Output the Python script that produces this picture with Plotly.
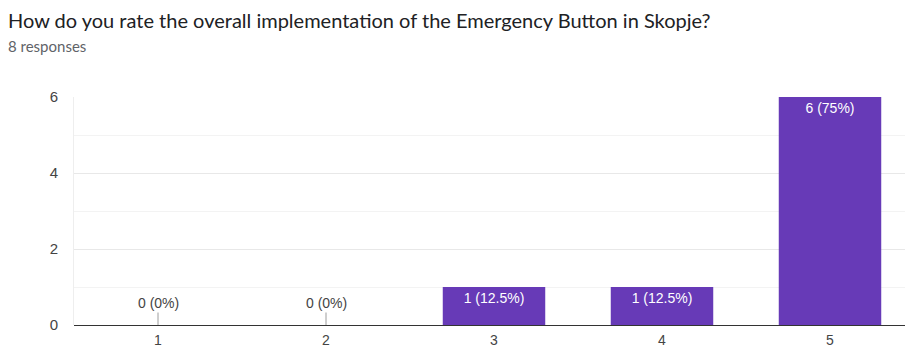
import plotly.graph_objects as go

# Survey responses per rating
ratings = ["1", "2", "3", "4", "5"]
counts = [0, 0, 1, 1, 6]
percents = ["0%", "0%", "12.5%", "12.5%", "75%"]
y_ticks = [0, 2, 4, 6]

title_text = "How do you rate the overall implementation of the Emergency Button in Skopje?"
subtitle_text = "8 responses"

labels = [f"{c} ({p})" for c, p in zip(counts, percents)]
xpos = [int(r) for r in ratings]

LABEL_FONT = "Liberation Sans, Arial"

fig = go.Figure()
fig.add_trace(go.Bar(
    x=xpos,
    y=counts,
    width=0.61,
    marker=dict(color="#673ab7", line=dict(width=0)),
    text=[l if c > 0 else "" for l, c in zip(labels, counts)],
    textposition="inside",
    insidetextanchor="end",
    textangle=0,
    constraintext="none",
    textfont=dict(family=LABEL_FONT, size=14, color="#ffffff"),
    hoverinfo="skip",
))

# Zero-valued ratings: label above the baseline with a short leader line
for x, c, l in zip(xpos, counts, labels):
    if c == 0:
        fig.add_annotation(
            x=x, y=c, xref="x", yref="y",
            text=l, showarrow=True, arrowhead=0, arrowwidth=1,
            arrowcolor="#9e9e9e", ax=0, ay=-22,
            font=dict(family=LABEL_FONT, size=14, color="#444444"),
        )

# Heading and response count above the plot area
fig.add_annotation(
    xref="paper", yref="paper", x=(-74 + 6) / 831, y=1.0 + (97 - 20) / 228,
    text=title_text, showarrow=False, xanchor="left", yanchor="middle",
    font=dict(family="Lato, Open Sans", size=20, color="#202124"),
)
fig.add_annotation(
    xref="paper", yref="paper", x=(-74 + 6) / 831, y=1.0 + (97 - 46) / 228,
    text=subtitle_text, showarrow=False, xanchor="left", yanchor="middle",
    font=dict(family="Lato, Open Sans", size=15, color="#5f6368"),
)

fig.update_layout(
    width=905, height=349,
    margin=dict(l=74, r=0, t=97, b=24),
    plot_bgcolor="#ffffff", paper_bgcolor="#ffffff",
    showlegend=False,
)

fig.update_xaxes(
    range=[0.5, 0.5 + 831 / 168],
    tickvals=xpos, ticktext=ratings,
    showgrid=False, zeroline=False,
    showline=False, ticks="", ticklabelstandoff=5,
    tickfont=dict(family=LABEL_FONT, size=14, color="#444444"),
)
fig.update_yaxes(
    range=[0, 6],
    tickvals=y_ticks,
    showgrid=True, gridcolor="#e8e8e8", gridwidth=1,
    minor=dict(dtick=1, showgrid=True, gridcolor="#f3f3f3"),
    zeroline=True, zerolinecolor="#333333", zerolinewidth=1,
    showline=True, linecolor="#eeeeee",
    ticks="", ticklabelstandoff=12,
    tickfont=dict(family=LABEL_FONT, size=15, color="#444444"),
)

fig.write_html("out.html")
